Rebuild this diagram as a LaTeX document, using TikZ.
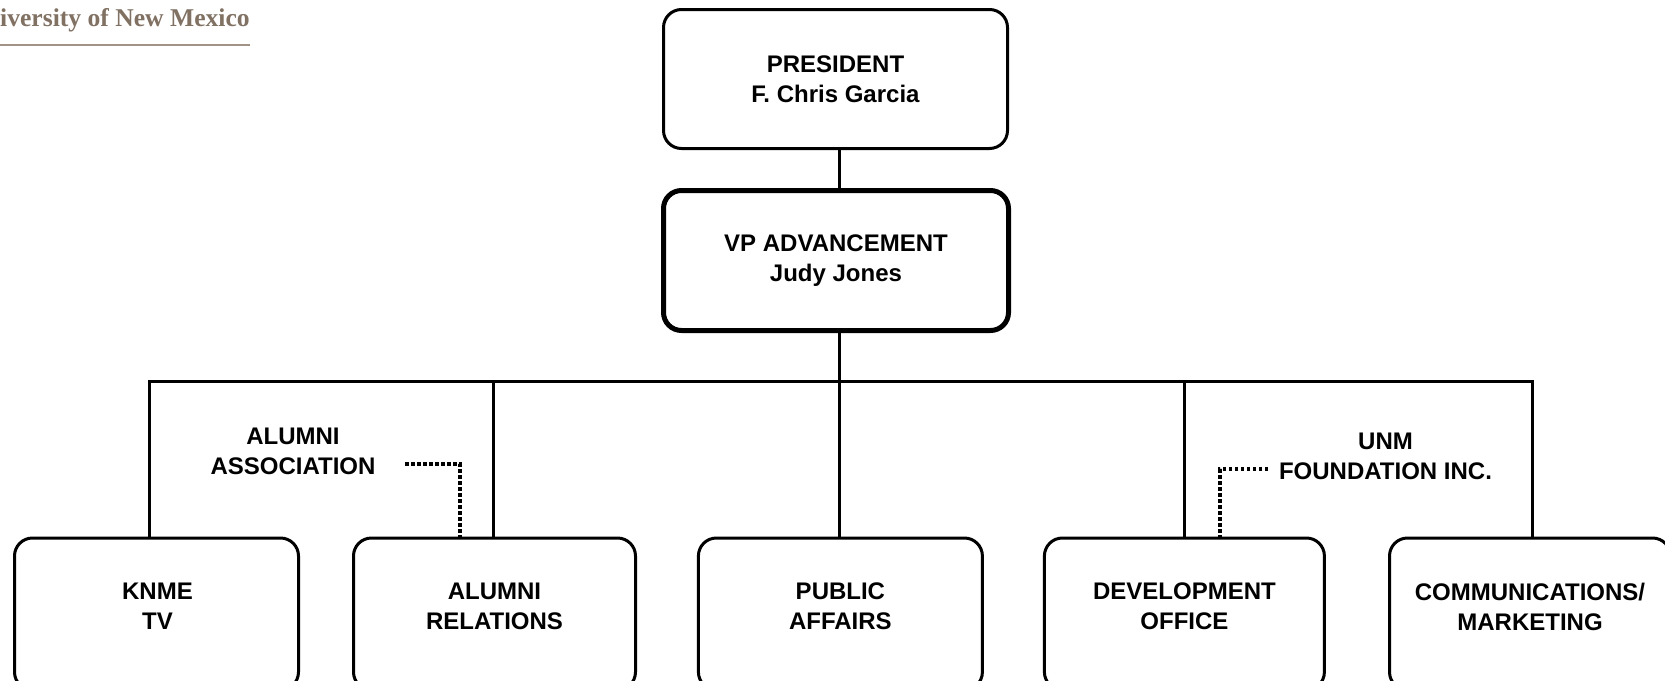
\documentclass[tikz,border=0pt]{standalone}
\usepackage{fontspec}
\setmainfont{Liberation Sans}
\newfontfamily\logofont{Liberation Serif}
\definecolor{logobrown}{RGB}{128,113,99}
\definecolor{logoline}{RGB}{160,146,133}
\begin{document}
\begin{tikzpicture}[x=1pt,y=-1pt,
  box/.style={draw, line width=3pt, rounded corners=18pt, inner sep=0pt},
  lbl/.style={font=\fontsize{24}{30}\selectfont\bfseries, align=center, inner sep=0pt},
  conn/.style={line width=3pt},
  dotline/.style={line width=3.5pt, dash pattern=on 3.5pt off 2.5pt}]
\useasboundingbox (0,0) rectangle (1665,680);
\clip (0,0) rectangle (1665,680);

% logo
\node[anchor=base west, inner sep=0pt, text=logobrown, font=\logofont\bfseries\fontsize{25.6}{30}\selectfont] (logo) at (0,27) {iversity of New Mexico};
\draw[line width=2pt, logoline] ([yshift=-18pt]logo.base west) -- ([yshift=-18pt]logo.base west -| logo.east);

% top boxes
\node[box, lbl, minimum width=344pt, minimum height=139pt] (pres) at (835.5,79) {PRESIDENT\\F. Chris Garcia};
\node[box, lbl, line width=5pt, minimum width=345pt, minimum height=140pt] (vp) at (836,260.5) {VP ADVANCEMENT\\Judy Jones};

% bottom boxes
\node[box, minimum width=284pt, minimum height=152pt] (knme) at (156.5,614) {};
\node[box, minimum width=282pt, minimum height=152pt] (alum) at (494.5,614) {};
\node[box, minimum width=284pt, minimum height=152pt] (pub) at (840.4,614) {};
\node[box, minimum width=280pt, minimum height=152pt] (dev) at (1184.4,614) {};
\node[box, minimum width=281pt, minimum height=152pt] (comm) at (1530,614) {};

\node[lbl] (knmet) at (157.5,606.5) {KNME\\TV};
\node[lbl] (alumt) at (494.5,606.5) {ALUMNI\\RELATIONS};
\node[lbl] (pubt) at (840.4,606.5) {PUBLIC\\AFFAIRS};
\node[lbl] (devt) at (1184.4,606.5) {DEVELOPMENT\\OFFICE};
\node[lbl] (commt) at (1530,606.5) {COMMUNICATIONS/\\MARKETING};

% side annotations
\node[lbl] (assoc) at (293,451.5) {ALUMNI\\ASSOCIATION};
\node[lbl] (unm) at (1385.5,456.7) {UNM\\FOUNDATION INC.};

% connectors
\coordinate (bus) at (839,381);
\coordinate (t1) at (149,381);
\coordinate (t2) at (493,381);
\coordinate (t4) at (1184,381);
\coordinate (t5) at (1532,381);
\draw[conn] (pres.south -| bus) -- (vp.north -| bus);
\draw[conn] (vp.south -| bus) -- (bus);
\draw[conn] (knme.north -| t1) |- (t5) -- (comm.north -| t5);
\draw[conn] (t2) -- (alum.north -| t2);
\draw[conn] (bus) -- (pub.north -| bus);
\draw[conn] (t4) -- (dev.north -| t4);

% dotted links
\coordinate (a1) at (405,464);
\coordinate (a2) at (460,464);
\draw[dotline] (a1) -- (a2) -- (a2 |- alum.north);
\coordinate (d1) at (1268,469);
\coordinate (d2) at (1220,469);
\draw[dotline] (d1) -- (d2) -- (d2 |- dev.north);
\end{tikzpicture}
\end{document}
